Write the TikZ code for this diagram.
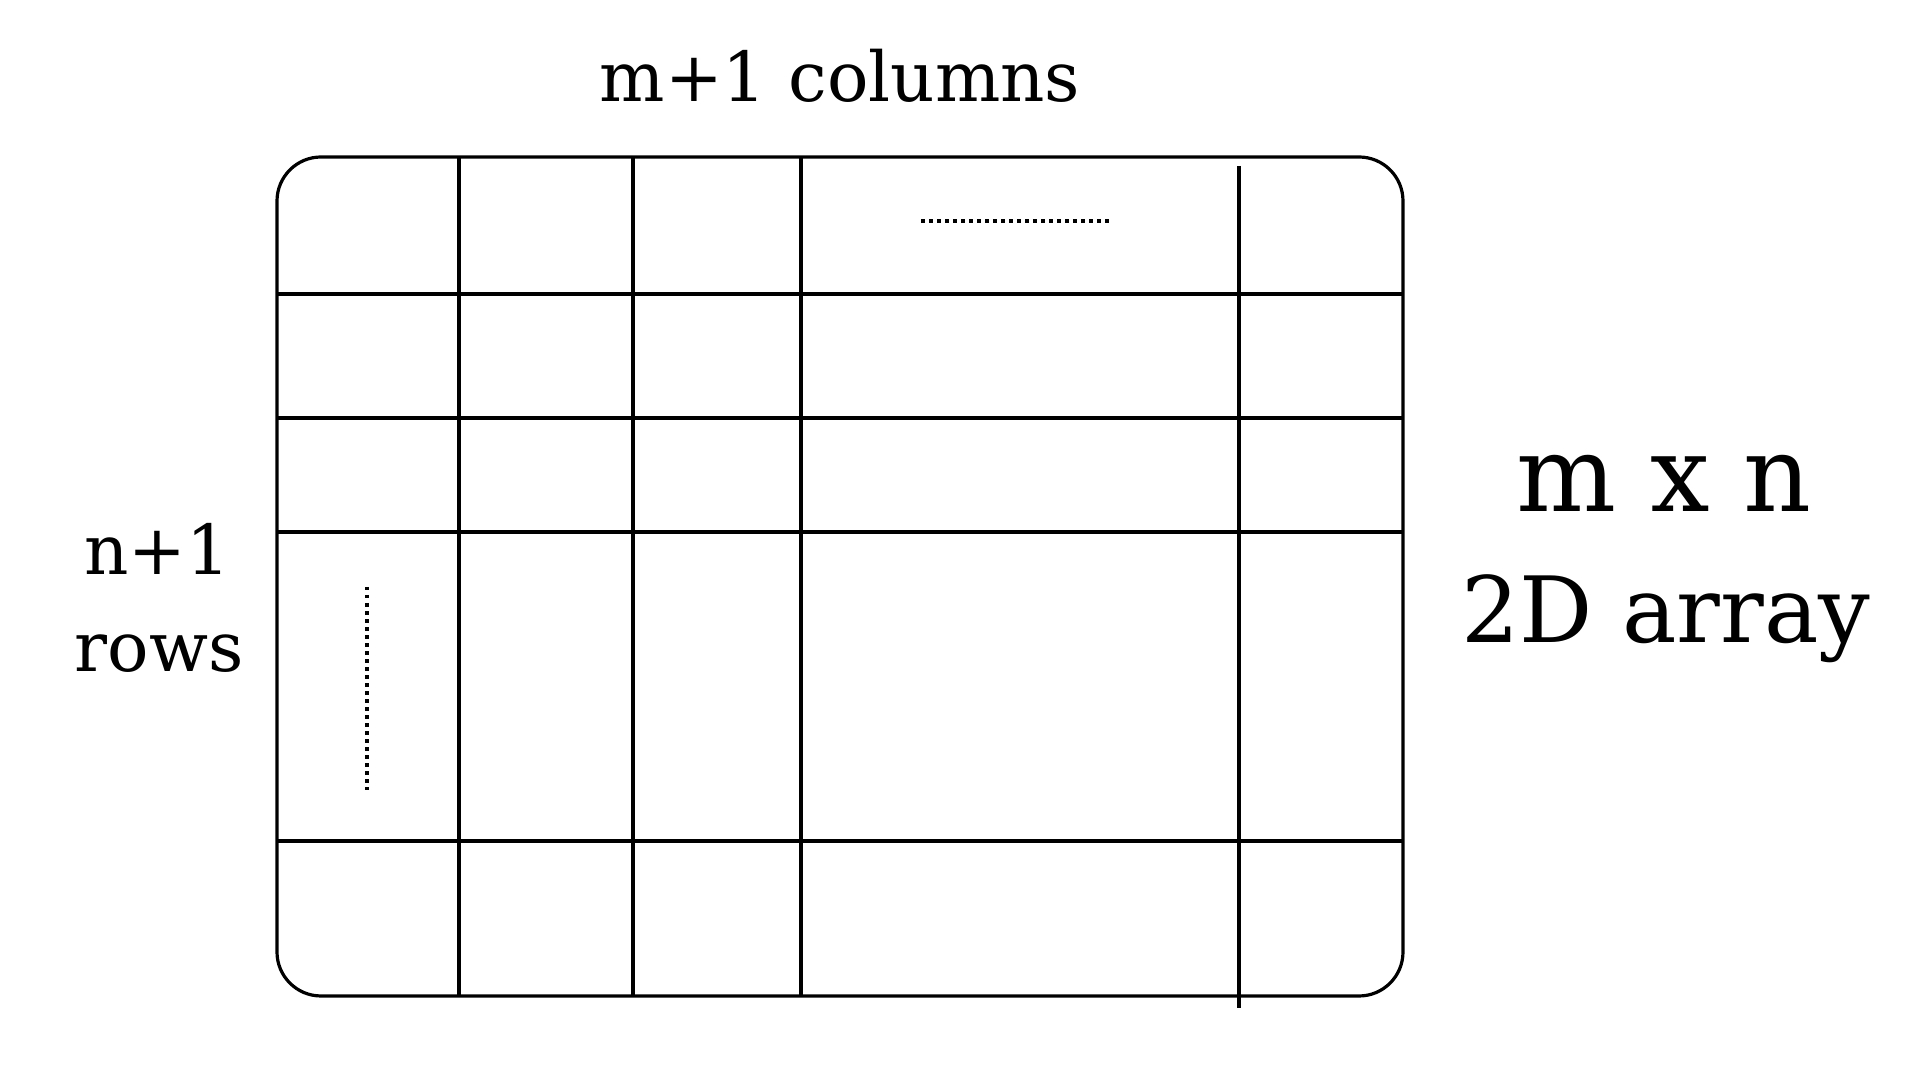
\documentclass[tikz,border=0pt]{standalone}
\usepackage{fontspec}
\setmainfont{DejaVu Serif}
\tikzset{
  gridline/.style={line width=0.032cm,black},
  dotline/.style={line width=0.032cm,black,dash pattern=on 0.035cm off 0.045cm},
  lbl/.style={anchor=base,inner sep=0pt}
}
\begin{document}
\begin{tikzpicture}[x=0.01cm,y=-0.01cm]
\useasboundingbox (0,0) rectangle (1920,1080);
\draw[gridline,rounded corners=0.44cm] (277,157) rectangle (1403,996);
\foreach \y in {294,418,532,841}
\draw[gridline] (277,\y) -- (1403,\y);
\foreach \x in {459,633,801}
\draw[gridline] (\x,157) -- (\x,996);
\draw[gridline] (1239,166) -- (1239,1008);
\draw[dotline] (921,221) -- (1113,221);
\draw[dotline] (367,587) -- (367,790);
\node[lbl] (cols) at (840,102) {\fontsize{19.6pt}{24pt}\selectfont m+1 columns};
\node[lbl] (rowsa) at (157,575) {\fontsize{19.6pt}{24pt}\selectfont n+1};
\node[lbl] (rowsb) at (159,672) {\fontsize{19.6pt}{24pt}\selectfont rows};
\node[lbl] (dims) at (1664,512) {\fontsize{30pt}{36pt}\selectfont m x n};
\node[lbl] (kind) at (1666,643) {\fontsize{26pt}{31pt}\selectfont 2D array};
\end{tikzpicture}
\end{document}
